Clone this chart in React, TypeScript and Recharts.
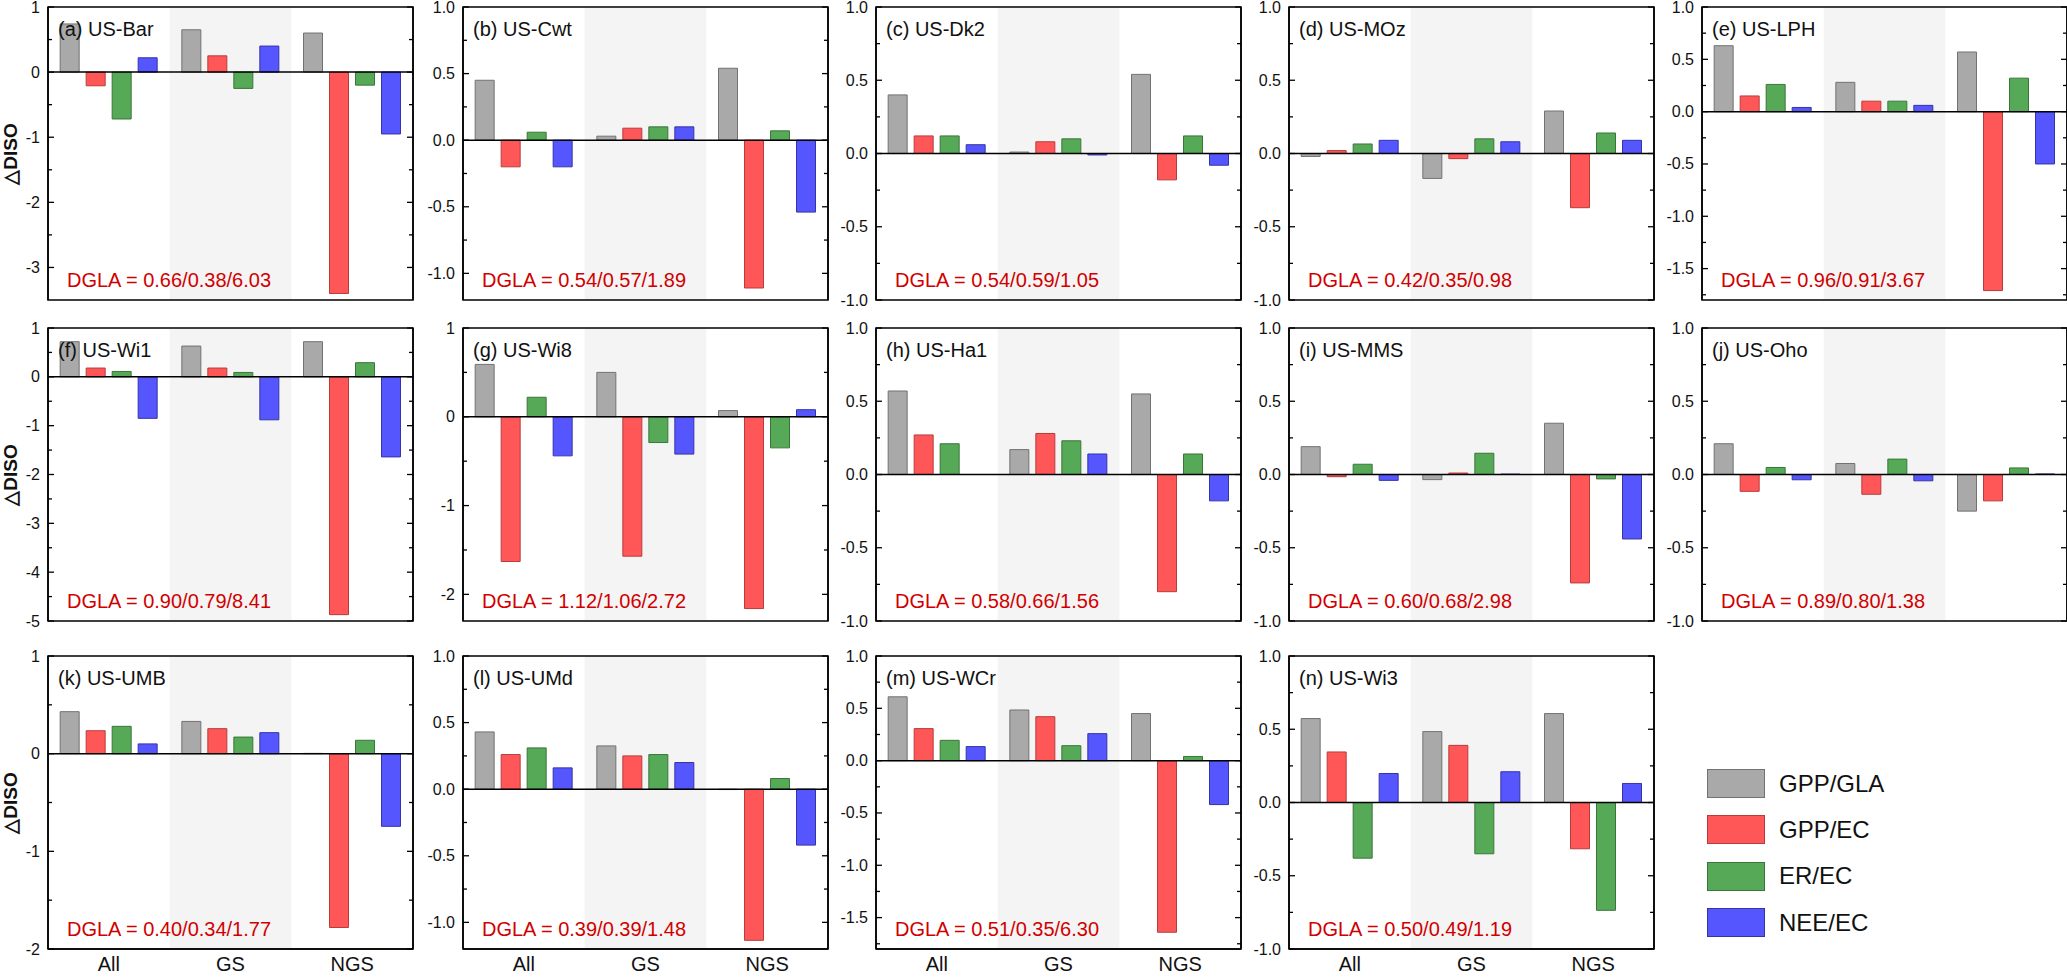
import React from "react";
import { Bar, BarChart, ReferenceArea, ReferenceLine, XAxis, YAxis } from "recharts";

const CATEGORIES = ["All", "GS", "NGS"];
const SERIES = ["GPP/GLA", "GPP/EC", "ER/EC", "NEE/EC"];
const FILLS = ["#a9a9a9", "#ff5757", "#56a956", "#5656ff"];
const STROKES = ["#727272", "#b83c3c", "#3a763a", "#3434a8"];

// one row per series (GPP/GLA, GPP/EC, ER/EC, NEE/EC), one column per period (All, GS, NGS)
const usBar = [[0.74, 0.65, 0.6], [-0.21, 0.25, -3.4], [-0.72, -0.25, -0.2], [0.22, 0.4, -0.95]];
const usCwt = [[0.45, 0.03, 0.54], [-0.2, 0.09, -1.11], [0.06, 0.1, 0.07], [-0.2, 0.1, -0.54]];
const usDk2 = [[0.4, 0.01, 0.54], [0.12, 0.08, -0.18], [0.12, 0.1, 0.12], [0.06, -0.01, -0.08]];
const usMOz = [[-0.02, -0.17, 0.29], [0.02, -0.035, -0.37], [0.065, 0.1, 0.14], [0.09, 0.08, 0.09]];
const usLPH = [[0.63, 0.28, 0.57], [0.15, 0.1, -1.71], [0.26, 0.1, 0.32], [0.04, 0.06, -0.5]];
const usWi1 = [[0.72, 0.63, 0.72], [0.18, 0.18, -4.87], [0.11, 0.09, 0.29], [-0.85, -0.88, -1.64]];
const usWi8 = [[0.59, 0.5, 0.07], [-1.63, -1.57, -2.16], [0.22, -0.29, -0.35], [-0.44, -0.42, 0.08]];
const usHa1 = [[0.57, 0.17, 0.55], [0.27, 0.28, -0.8], [0.21, 0.23, 0.14], [0.0, 0.14, -0.18]];
const usMMS = [[0.19, -0.035, 0.35], [-0.015, 0.01, -0.74], [0.07, 0.145, -0.03], [-0.04, 0.003, -0.44]];
const usOho = [[0.21, 0.075, -0.25], [-0.115, -0.135, -0.18], [0.048, 0.105, 0.045], [-0.036, -0.043, 0.004]];
const usUMB = [[0.43, 0.33, 0.003], [0.235, 0.256, -1.78], [0.28, 0.17, 0.137], [0.1, 0.215, -0.744]];
const usUMd = [[0.43, 0.325, -0.003], [0.26, 0.25, -1.135], [0.31, 0.26, 0.08], [0.16, 0.2, -0.42]];
const usWCr = [[0.61, 0.484, 0.45], [0.306, 0.42, -1.64], [0.194, 0.143, 0.04], [0.134, 0.258, -0.42]];
const usWi3 = [[0.573, 0.484, 0.607], [0.345, 0.39, -0.316], [-0.38, -0.35, -0.736], [0.198, 0.21, 0.13]];

const TICKS_1 = [-1, -0.5, 0, 0.5, 1];
const TICKS_15 = [-1.5, -1, -0.5, 0, 0.5, 1];

const PANELS = [
  { tag: "(a) US-Bar", values: usBar, dgla: "0.66/0.38/6.03", domain: [-3.5, 1], ticks: [-3, -2, -1, 0, 1], dec: 0 },
  { tag: "(b) US-Cwt", values: usCwt, dgla: "0.54/0.57/1.89", domain: [-1.2, 1], ticks: TICKS_1, dec: 1 },
  { tag: "(c) US-Dk2", values: usDk2, dgla: "0.54/0.59/1.05", domain: [-1, 1], ticks: TICKS_1, dec: 1 },
  { tag: "(d) US-MOz", values: usMOz, dgla: "0.42/0.35/0.98", domain: [-1, 1], ticks: TICKS_1, dec: 1 },
  { tag: "(e) US-LPH", values: usLPH, dgla: "0.96/0.91/3.67", domain: [-1.8, 1], ticks: TICKS_15, dec: 1 },
  { tag: "(f) US-Wi1", values: usWi1, dgla: "0.90/0.79/8.41", domain: [-5, 1], ticks: [-5, -4, -3, -2, -1, 0, 1], dec: 0 },
  { tag: "(g) US-Wi8", values: usWi8, dgla: "1.12/1.06/2.72", domain: [-2.3, 1], ticks: [-2, -1, 0, 1], dec: 0 },
  { tag: "(h) US-Ha1", values: usHa1, dgla: "0.58/0.66/1.56", domain: [-1, 1], ticks: TICKS_1, dec: 1 },
  { tag: "(i) US-MMS", values: usMMS, dgla: "0.60/0.68/2.98", domain: [-1, 1], ticks: TICKS_1, dec: 1 },
  { tag: "(j) US-Oho", values: usOho, dgla: "0.89/0.80/1.38", domain: [-1, 1], ticks: TICKS_1, dec: 1 },
  { tag: "(k) US-UMB", values: usUMB, dgla: "0.40/0.34/1.77", domain: [-2, 1], ticks: [-2, -1, 0, 1], dec: 0 },
  { tag: "(l) US-UMd", values: usUMd, dgla: "0.39/0.39/1.48", domain: [-1.2, 1], ticks: TICKS_1, dec: 1 },
  { tag: "(m) US-WCr", values: usWCr, dgla: "0.51/0.35/6.30", domain: [-1.8, 1], ticks: TICKS_15, dec: 1 },
  { tag: "(n) US-Wi3", values: usWi3, dgla: "0.50/0.49/1.19", domain: [-1, 1], ticks: TICKS_1, dec: 1 },
];

const COL_X = [48, 463, 876, 1289, 1702];
const ROW_Y = [7, 328, 656];
const PLOT_W = 365;
const PLOT_H = 293;
const AXIS_W = 50;
const PAD = 12;
const FONT = '"Liberation Sans", Arial, sans-serif';

// major ticks plus the half-way minor ticks that sit inside the domain
function withMinor(ticks: number[], domain: number[]) {
  const step = ticks[1] - ticks[0];
  const out: number[] = [];
  for (let i = 0; i < ticks.length; i++) {
    out.push(ticks[i]);
    const m = ticks[i] + step / 2;
    if (m < domain[1] - 1e-9) out.push(m);
  }
  const low = ticks[0] - step / 2;
  if (low > domain[0] + 1e-9) out.push(low);
  return out.sort((a, b) => a - b);
}

function LeftTick(props: any) {
  const { x, y, payload, majors, dec } = props;
  const axisX = x + 8;
  const major = majors.some((t: number) => Math.abs(t - payload.value) < 1e-9);
  return (
    <g>
      <line x1={axisX} x2={axisX + (major ? 6 : 4)} y1={y} y2={y} stroke="#000" strokeWidth={1.3} />
      {major && (
        <text x={x} y={y} dy={5.5} textAnchor="end" fontSize={16} fontFamily={FONT} fill="#111">
          {payload.value.toFixed(dec)}
        </text>
      )}
    </g>
  );
}

function RightTick(props: any) {
  const { x, y, payload, majors } = props;
  const major = majors.some((t: number) => Math.abs(t - payload.value) < 1e-9);
  return <line x1={x} x2={x - (major ? 6 : 4)} y1={y} y2={y} stroke="#000" strokeWidth={1.3} />;
}

function Panel({ p, index }: { p: (typeof PANELS)[number]; index: number }) {
  const row = Math.floor(index / 5);
  const col = index % 5;
  const left = COL_X[col];
  const top = ROW_Y[row];
  const bottomRow = row === 2;
  const xHeight = bottomRow ? 28 : 0;
  const bottomPad = bottomRow ? 0 : PAD;
  const data = CATEGORIES.map((cat, i) => ({
    cat,
    s0: p.values[0][i],
    s1: p.values[1][i],
    s2: p.values[2][i],
    s3: p.values[3][i],
  }));
  const allTicks = withMinor(p.ticks, p.domain);

  return (
    <>
      <div style={{ position: "absolute", left: left - AXIS_W, top: top - PAD }}>
        <BarChart
          width={AXIS_W + PLOT_W + 1}
          height={PAD + PLOT_H + xHeight + bottomPad}
          data={data}
          margin={{ top: PAD, right: 0, bottom: bottomPad, left: 0 }}
          barCategoryGap="10%"
          barGap={7}
        >
          <XAxis
            xAxisId="b"
            dataKey="cat"
            orientation="bottom"
            height={xHeight}
            axisLine={{ stroke: "#000", strokeWidth: 1.5 }}
            tickLine={false}
            tickSize={0}
            tickMargin={8}
            tick={bottomRow ? { fontSize: 20, fill: "#111", fontFamily: FONT } : false}
          />
          <YAxis
            yAxisId="l"
            width={AXIS_W}
            domain={p.domain}
            allowDataOverflow
            ticks={allTicks}
            interval={0}
            axisLine={{ stroke: "#000", strokeWidth: 1.5 }}
            tickLine={false}
            tickSize={0}
            tickMargin={8}
            tick={(tp: any) => <LeftTick {...tp} majors={p.ticks} dec={p.dec} />}
          />
          <YAxis
            yAxisId="r"
            orientation="right"
            width={1}
            domain={p.domain}
            allowDataOverflow
            ticks={allTicks}
            interval={0}
            axisLine={{ stroke: "#000", strokeWidth: 1.5 }}
            tickLine={false}
            tickSize={0}
            tickMargin={0}
            tick={(tp: any) => <RightTick {...tp} majors={p.ticks} />}
          />
          <ReferenceArea
            xAxisId="b"
            yAxisId="l"
            x1="GS"
            x2="GS"
            y1={p.domain[0]}
            y2={p.domain[1]}
            fill="#f4f4f4"
            fillOpacity={1}
            stroke="none"
          />
          {SERIES.map((name, k) => (
            <Bar
              key={name}
              name={name}
              xAxisId="b"
              yAxisId="l"
              dataKey={`s${k}`}
              fill={FILLS[k]}
              stroke={STROKES[k]}
              strokeWidth={1}
              isAnimationActive={false}
            />
          ))}
          <ReferenceLine xAxisId="b" yAxisId="l" y={0} stroke="#000" strokeWidth={1.5} />
          <ReferenceArea
            xAxisId="b"
            yAxisId="l"
            y1={p.domain[0]}
            y2={p.domain[1]}
            fill="none"
            stroke="#000"
            strokeWidth={1.5}
          />
        </BarChart>
      </div>
      <div
        style={{
          position: "absolute",
          left: left + 10,
          top: top + 12,
          fontSize: 20,
          lineHeight: 1,
          fontFamily: FONT,
          color: "#111",
          whiteSpace: "nowrap",
        }}
      >
        {p.tag}
      </div>
      <div
        style={{
          position: "absolute",
          left: left + 19,
          top: top + PLOT_H - 30,
          fontSize: 20,
          lineHeight: 1,
          fontFamily: FONT,
          color: "#d10000",
          whiteSpace: "nowrap",
        }}
      >
        {`DGLA = ${p.dgla}`}
      </div>
    </>
  );
}

export default function App() {
  return (
    <div
      style={{
        position: "absolute",
        left: 0,
        top: 0,
        width: 2067,
        height: 978,
        overflow: "hidden",
        background: "#fff",
      }}
    >
      {PANELS.map((p, i) => (
        <Panel key={p.tag} p={p} index={i} />
      ))}
      {ROW_Y.map((y) => (
        <div
          key={y}
          style={{
            position: "absolute",
            left: 10,
            top: y + PLOT_H / 2,
            transform: "translate(-50%, -50%) rotate(-90deg)",
            fontSize: 19,
            fontWeight: "bold",
            fontFamily: FONT,
            color: "#111",
            whiteSpace: "nowrap",
          }}
        >
          △DISO
        </div>
      ))}
      <div style={{ position: "absolute", left: 1707, top: 769 }}>
        {SERIES.map((name, k) => (
          <div key={name} style={{ display: "flex", alignItems: "center", height: 46.3 }}>
            <div
              style={{
                width: 56,
                height: 27,
                background: FILLS[k],
                border: `1px solid ${STROKES[k]}`,
                marginTop: -17,
              }}
            />
            <span
              style={{
                marginLeft: 14,
                marginTop: -17,
                fontSize: 24,
                fontFamily: FONT,
                color: "#111",
              }}
            >
              {name}
            </span>
          </div>
        ))}
      </div>
    </div>
  );
}
